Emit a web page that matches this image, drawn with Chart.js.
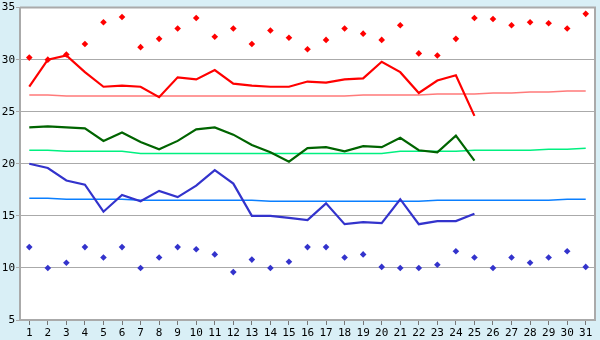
<!DOCTYPE html>
<html>
<head>
<meta charset="utf-8">
<script src="https://cdn.jsdelivr.net/npm/chart.js@4/dist/chart.umd.min.js"></script>
<style>
  html, body { margin: 0; padding: 0; background: #d9eff6; }
  #wrap { width: 600px; height: 340px; position: relative; }
</style>
</head>
<body>
<div id="wrap"><canvas id="c" width="600" height="340"></canvas></div>
<script>
const days = ["1","2","3","4","5","6","7","8","9","10","11","12","13","14","15","16","17","18","19","20","21","22","23","24","25","26","27","28","29","30","31"];

const recordMax = [30.2, 30.0, 30.5, 31.5, 33.6, 34.1, 31.2, 32.0, 33.0, 34.0, 32.2, 33.0, 31.5, 32.8, 32.1, 31.0, 31.9, 33.0, 32.5, 31.9, 33.3, 30.6, 30.4, 32.0, 34.0, 33.9, 33.3, 33.6, 33.5, 33.0, 34.4];
const dailyMax = [27.4, 30.0, 30.4, 28.8, 27.4, 27.5, 27.4, 26.4, 28.3, 28.1, 29.0, 27.7, 27.5, 27.4, 27.4, 27.9, 27.8, 28.1, 28.2, 29.8, 28.8, 26.8, 28.0, 28.5, 24.6];
const dailyMean = [23.5, 23.6, 23.5, 23.4, 22.2, 23.0, 22.1, 21.4, 22.2, 23.3, 23.5, 22.8, 21.8, 21.1, 20.2, 21.5, 21.6, 21.2, 21.7, 21.6, 22.5, 21.3, 21.1, 22.7, 20.3];
const dailyMin = [20.0, 19.6, 18.4, 18.0, 15.4, 17.0, 16.4, 17.4, 16.8, 17.9, 19.4, 18.1, 15.0, 15.0, 14.8, 14.6, 16.2, 14.2, 14.4, 14.3, 16.6, 14.2, 14.5, 14.5, 15.2];
const recordMin = [12.0, 10.0, 10.5, 12.0, 11.0, 12.0, 10.0, 11.0, 12.0, 11.8, 11.3, 9.6, 10.8, 10.0, 10.6, 12.0, 12.0, 11.0, 11.3, 10.1, 10.0, 10.0, 10.3, 11.6, 11.0, 10.0, 11.0, 10.5, 11.0, 11.6, 10.1];
const normalMax = [26.6, 26.6, 26.5, 26.5, 26.5, 26.5, 26.5, 26.5, 26.5, 26.5, 26.5, 26.5, 26.5, 26.5, 26.5, 26.5, 26.5, 26.5, 26.6, 26.6, 26.6, 26.6, 26.7, 26.7, 26.7, 26.8, 26.8, 26.9, 26.9, 27.0, 27.0];
const normalMean = [21.3, 21.3, 21.2, 21.2, 21.2, 21.2, 21.0, 21.0, 21.0, 21.0, 21.0, 21.0, 21.0, 21.0, 21.0, 21.0, 21.0, 21.0, 21.0, 21.0, 21.2, 21.2, 21.2, 21.2, 21.3, 21.3, 21.3, 21.3, 21.4, 21.4, 21.5];
const normalMin = [16.7, 16.7, 16.6, 16.6, 16.6, 16.6, 16.5, 16.5, 16.5, 16.5, 16.5, 16.5, 16.5, 16.4, 16.4, 16.4, 16.4, 16.4, 16.4, 16.4, 16.4, 16.4, 16.5, 16.5, 16.5, 16.5, 16.5, 16.5, 16.5, 16.6, 16.6];
const yTicks = [5, 10, 15, 20, 25, 30, 35];

const GRID = '#aaaaaa';
const FONT = { family: '"DejaVu Sans Mono", monospace', size: 11 };

const bgPlugin = {
  id: 'bg',
  beforeDraw(chart) {
    const { ctx, chartArea: a } = chart;
    ctx.save();
    ctx.fillStyle = '#d9eff6';
    ctx.fillRect(0, 0, chart.width, chart.height);
    ctx.fillStyle = '#ffffff';
    ctx.fillRect(a.left, a.top, a.right - a.left, a.bottom - a.top);
    ctx.restore();
  },
  afterDraw(chart) {
    const { ctx, chartArea: a } = chart;
    ctx.save();
    ctx.strokeStyle = GRID;
    ctx.lineWidth = 2;
    ctx.beginPath();
    ctx.moveTo(a.left, a.top);
    ctx.lineTo(a.right, a.top);
    ctx.lineTo(a.right, a.bottom);
    ctx.stroke();
    ctx.restore();
  }
};

function lineDs(data, color, width, order) {
  return { data, borderColor: color, backgroundColor: color, borderWidth: width,
           pointRadius: 0, tension: 0, fill: false, order, spanGaps: false };
}
function pointDs(data, color, order) {
  return { data, borderColor: color, backgroundColor: color, showLine: false,
           pointStyle: 'rectRot', pointRadius: 3.3, pointBorderWidth: 0, order };
}

new Chart(document.getElementById('c'), {
  type: 'line',
  data: {
    labels: days,
    datasets: [
      lineDs(dailyMax, '#ff0000', 2.2, 1),
      lineDs(dailyMean, '#006400', 2.2, 2),
      lineDs(dailyMin, '#3333cc', 2.2, 3),
      pointDs(recordMax, '#ff0000', 4),
      pointDs(recordMin, '#3333cc', 5),
      lineDs(normalMax, '#ff7a7a', 1.5, 6),
      lineDs(normalMean, '#00f080', 1.5, 7),
      lineDs(normalMin, '#0a7fff', 1.5, 8)
    ]
  },
  options: {
    responsive: false,
    animation: false,
    events: [],
    layout: { padding: { top: 5, right: 5, left: 0, bottom: 0 } },
    plugins: { legend: { display: false }, tooltip: { enabled: false } },
    scales: {
      x: {
        offset: true,
        grid: { drawOnChartArea: false, drawTicks: true, tickLength: 5, color: '#777777' },
        border: { color: GRID, width: 2 },
        ticks: { color: '#000', font: FONT, padding: 2, maxRotation: 0, autoSkip: false },
        afterFit(s) { s.height = 20; }
      },
      y: {
        min: 5, max: 35,
        afterBuildTicks(s) { s.ticks = yTicks.map(v => ({ value: v })); },
        grid: { color: GRID, lineWidth: 1, tickLength: 4, drawTicks: true },
        border: { color: GRID, width: 2 },
        ticks: { color: '#000', font: FONT, padding: 1 },
        afterFit(s) { s.width = 20; }
      }
    }
  },
  plugins: [bgPlugin]
});
</script>
</body>
</html>
